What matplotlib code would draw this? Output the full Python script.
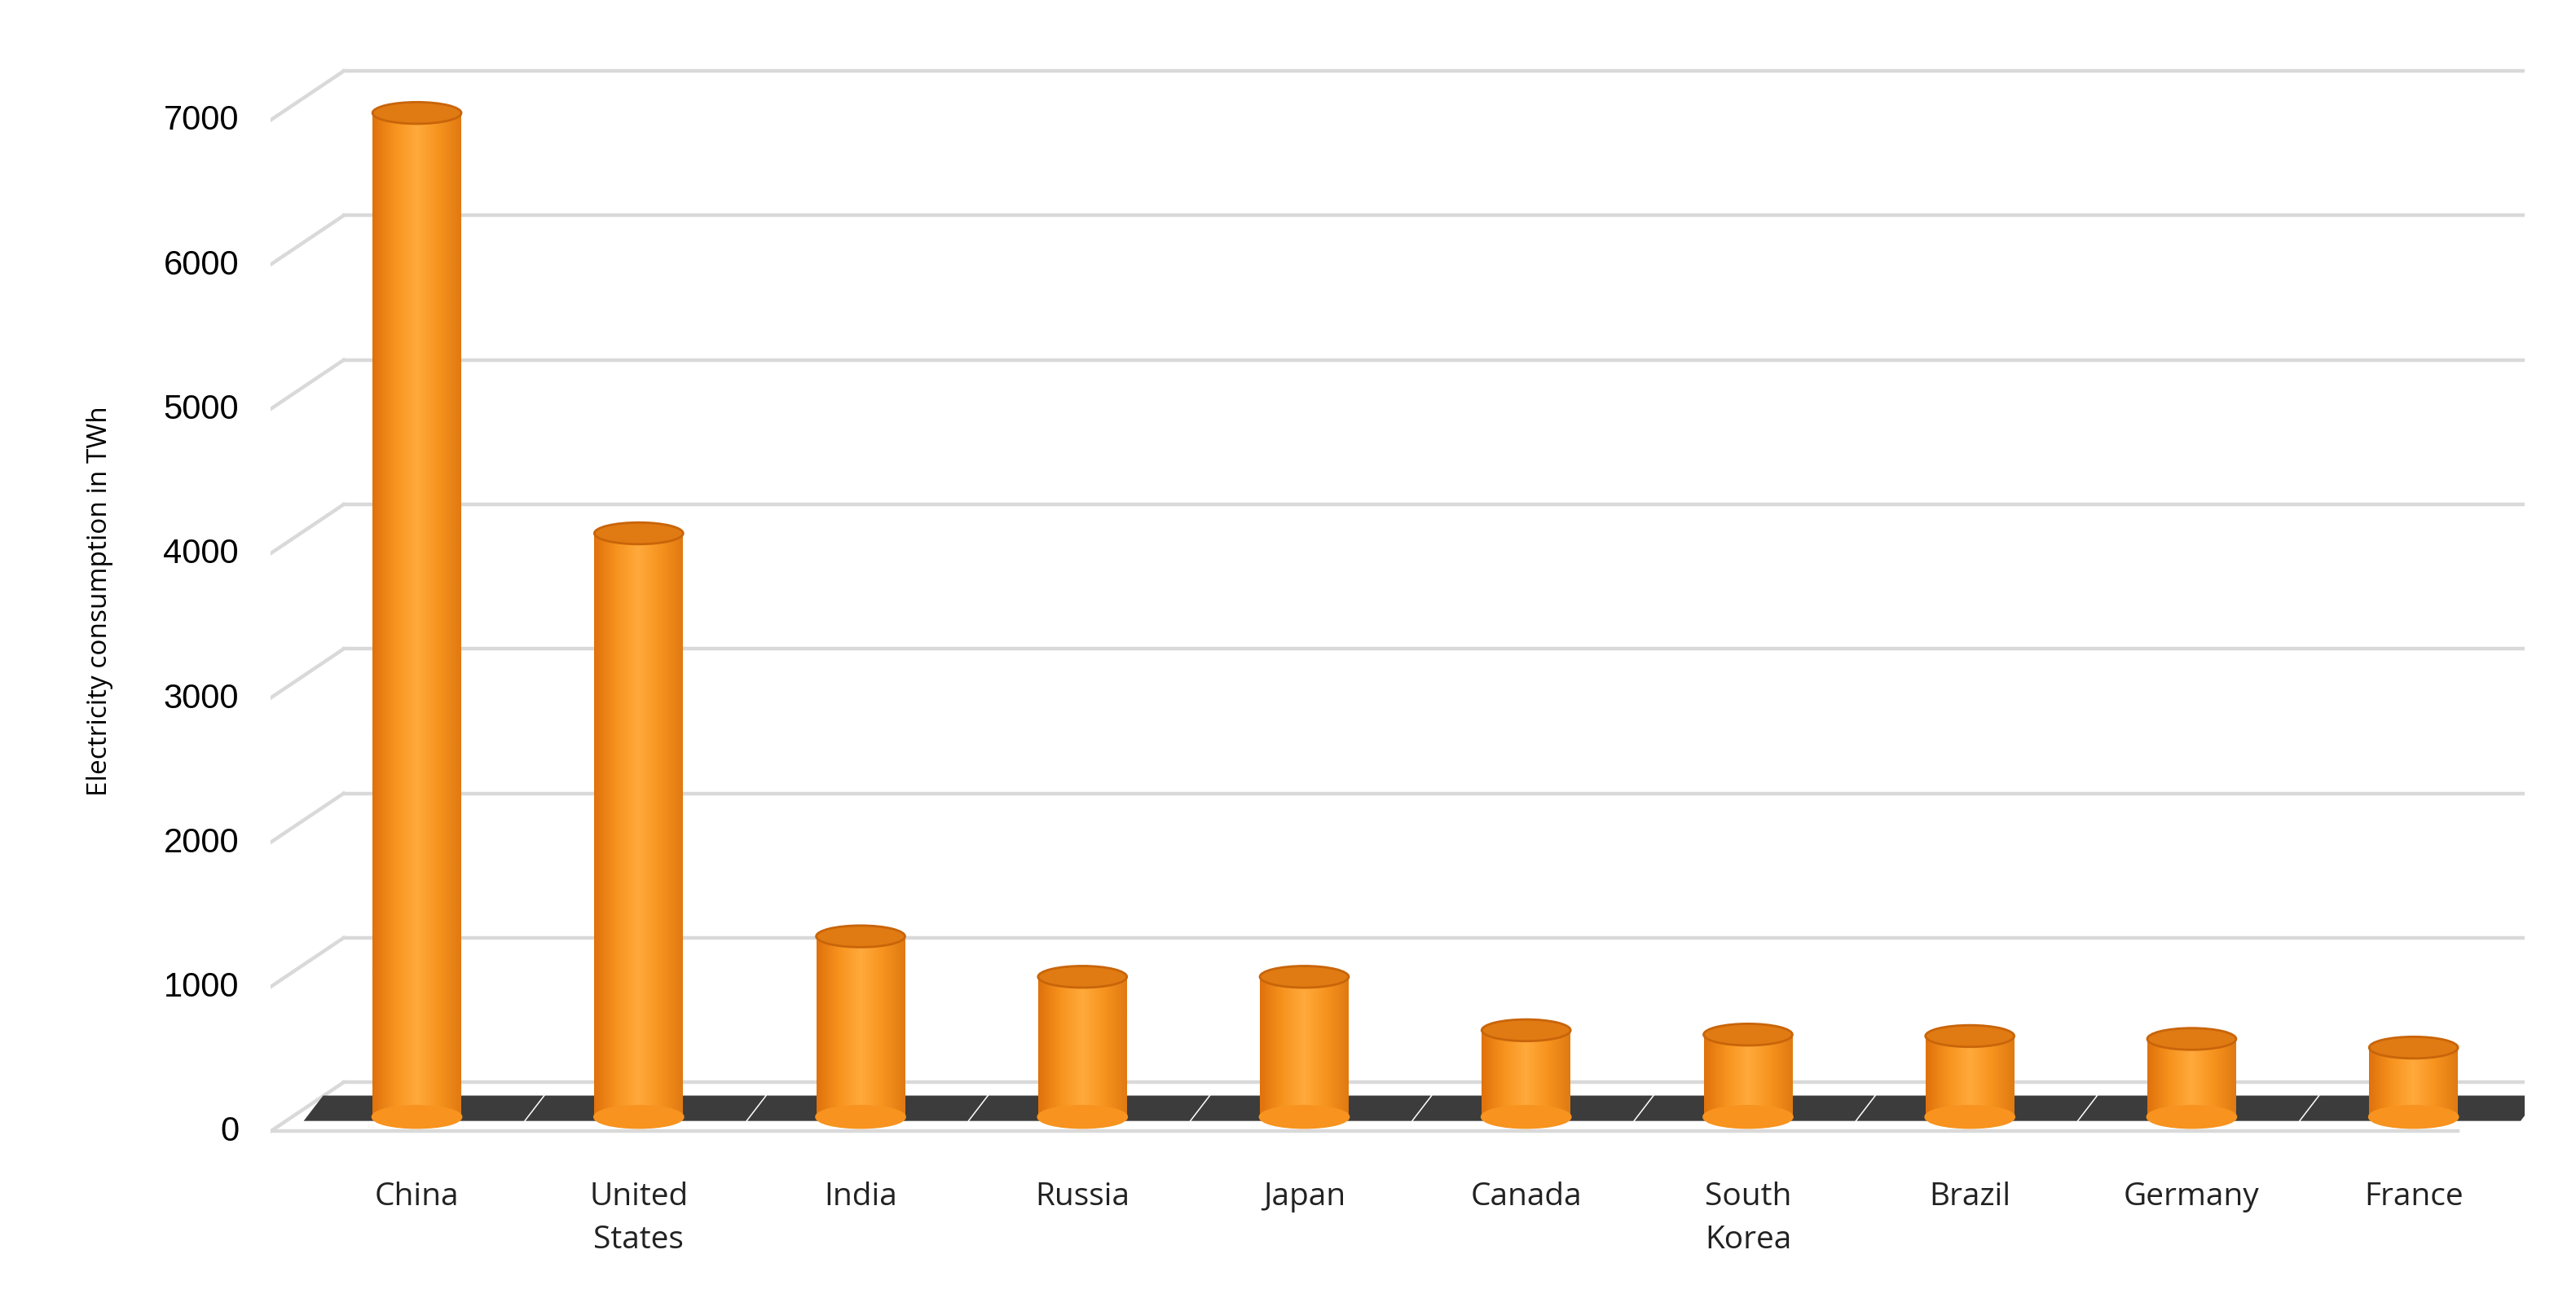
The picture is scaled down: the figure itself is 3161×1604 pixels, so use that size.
import matplotlib.pyplot as plt
import numpy as np
from matplotlib.patches import Ellipse, Rectangle, Polygon
from matplotlib.colors import LinearSegmentedColormap

countries = ["China", "United\nStates", "India", "Russia", "Japan", "Canada",
             "South\nKorea", "Brazil", "Germany", "France"]
consumption = [7030, 4120, 1330, 1050, 1050, 680, 650, 640, 620, 560]
y_ticks = [0, 1000, 2000, 3000, 4000, 5000, 6000, 7000]

BAR_W = 0.40
CAP_H = 150

fig = plt.figure(figsize=(15.805, 8.02), dpi=200)
ax = fig.add_axes([0.105, 0.12, 0.875, 0.84])
ax.set_xlim(-0.66, 9.5)
ax.set_ylim(-150, 7450)

# back wall gridlines (shifted up to mimic 3D perspective)
for t in y_ticks:
    ax.plot([-0.33, 9.5], [t + 320, t + 320], color="#d9d9d9", lw=1.6, zorder=0)
    ax.plot([-0.66, -0.33], [t - 20, t + 320], color="#d9d9d9", lw=1.6, zorder=0)
ax.plot([-0.66, 9.2], [-20, -20], color="#d9d9d9", lw=1.6, zorder=0)

cmap = LinearSegmentedColormap.from_list("cyl", ["#e0720c", "#f7931e", "#ffaa3c", "#f7931e", "#e07a12"])
grad = np.linspace(0, 1, 64).reshape(1, -1)

for i, v in enumerate(consumption):
    # floor shadow
    ax.add_patch(Polygon([(i - 0.5, 60), (i + 0.48, 60), (i + 0.56, 220), (i - 0.42, 220)],
                         closed=True, color="#3c3c3c", zorder=1))
    im = ax.imshow(grad, cmap=cmap, extent=(i - BAR_W / 2, i + BAR_W / 2, 80, v),
                   aspect="auto", zorder=2)
    clip = Rectangle((i - BAR_W / 2, 80), BAR_W, v - 80, transform=ax.transData)
    im.set_clip_path(clip)
    ax.add_patch(Ellipse((i, 80), BAR_W, CAP_H, color="#f7931e", zorder=2))
    ax.add_patch(Ellipse((i, v), BAR_W, CAP_H, facecolor="#e07a12", edgecolor="#c8650a", lw=1, zorder=3))

ax.set_xticks(range(len(countries)))
ax.set_xticklabels(countries, fontsize=14, linespacing=1.5, family="Open Sans", color="#222222")
ax.set_yticks(y_ticks)
ax.set_yticklabels([str(t) for t in y_ticks], fontsize=15, family="Liberation Sans")
ax.tick_params(length=0, pad=14)
ax.set_ylabel("Electricity consumption in TWh", fontsize=12, labelpad=22, family="Open Sans")
for s in ax.spines.values():
    s.set_visible(False)

fig.savefig("out.png", dpi=200)
